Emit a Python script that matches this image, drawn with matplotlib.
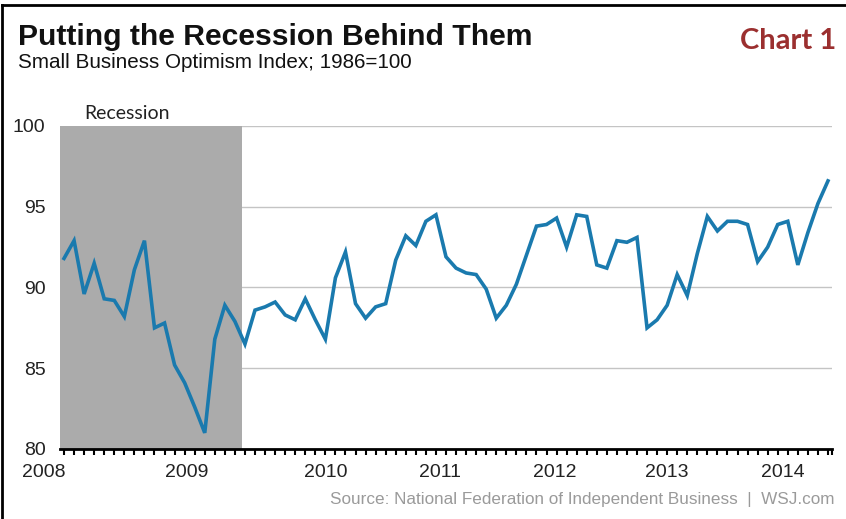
import matplotlib
matplotlib.use("Agg")
from matplotlib import pyplot as plt
from matplotlib.lines import Line2D

# Small Business Optimism Index, monthly Jan 2008 - May 2014
values_2008 = [91.8, 92.9, 89.6, 91.5, 89.3, 89.2, 88.2, 91.1, 92.9, 87.5, 87.8, 85.2]
values_2009 = [84.1, 82.6, 81.0, 86.8, 88.9, 87.9, 86.5, 88.6, 88.8, 89.1, 88.3, 88.0]
values_2010 = [89.3, 88.0, 86.8, 90.6, 92.2, 89.0, 88.1, 88.8, 89.0, 91.7, 93.2, 92.6]
values_2011 = [94.1, 94.5, 91.9, 91.2, 90.9, 90.8, 89.9, 88.1, 88.9, 90.2, 92.0, 93.8]
values_2012 = [93.9, 94.3, 92.5, 94.5, 94.4, 91.4, 91.2, 92.9, 92.8, 93.1, 87.5, 88.0]
values_2013 = [88.9, 90.8, 89.5, 92.1, 94.4, 93.5, 94.1, 94.1, 93.9, 91.6, 92.5, 93.9]
values_2014 = [94.1, 91.4, 93.4, 95.2, 96.6]

index = (values_2008 + values_2009 + values_2010 + values_2011
         + values_2012 + values_2013 + values_2014)
months = list(range(len(index)))  # 0 = Jan 2008

years = ["2008", "2009", "2010", "2011", "2012", "2013", "2014"]
year_label_pos = [-2.0, 12.2, 26.0, 37.4, 48.8, 60.0, 71.5]
y_ticks = [80, 85, 90, 95, 100]

# recession Dec 2007 - Jun 2009, in month units
recession = (-0.4, 17.7)

W, H = 846, 519
fig = plt.figure(figsize=(W / 100, H / 100), dpi=100)
fig.patch.set_facecolor("white")

ax = fig.add_axes([60 / W, 1 - 449 / H, (832 - 60) / W, (449 - 126) / H])
ax.set_xlim(-0.4, 76.4)
ax.set_ylim(80, 100)

for v in y_ticks[1:]:
    ax.axhline(v, color="#c4c4c4", lw=1.0, zorder=1)
ax.axvspan(recession[0], recession[1], ymin=0, ymax=1, color="#ababab", lw=0, zorder=2)
ax.plot(months, index, color="#1a7aae", lw=2.6, zorder=3, solid_joinstyle="miter")

for s in ["top", "right", "left"]:
    ax.spines[s].set_visible(False)
ax.spines["bottom"].set_color("black")
ax.spines["bottom"].set_linewidth(2.0)
ax.spines["bottom"].set_zorder(4)

ax.set_xticks(months + [76.4])
ax.set_xticklabels([])
ax.tick_params(axis="x", direction="out", length=4, width=1.5, color="black")
ax.set_yticks(y_ticks)
ax.set_yticklabels([str(v) for v in y_ticks], fontsize=14, family="Liberation Sans", color="#222222")
ax.tick_params(axis="y", length=0, pad=10.5)

for lbl, pos in zip(years, year_label_pos):
    ax.text(pos, -0.045, lbl, transform=ax.get_xaxis_transform(), ha="center", va="top",
            fontsize=14, family="Liberation Sans", color="#222222", clip_on=False)

ax.text(recession[0] + 2.4, 100.25, "Recession", ha="left", va="bottom",
        fontsize=14, family="Lato", color="#222222")

fig.text(18 / W, 1 - 45 / H, "Putting the Recession Behind Them", ha="left", va="baseline",
         fontsize=21.7, fontweight="bold", family="Liberation Sans", color="#111111")
fig.text(18 / W, 1 - 68 / H, "Small Business Optimism Index; 1986=100", ha="left", va="baseline",
         fontsize=14.9, family="Liberation Sans", color="#111111")
fig.text(836 / W, 1 - 49 / H, "Chart 1", ha="right", va="baseline",
         fontsize=21, fontweight="bold", family="Lato", color="#9b2f2f")
fig.text(834 / W, 1 - 504 / H, "Source: National Federation of Independent Business  |  WSJ.com",
         ha="right", va="baseline", fontsize=12.3, family="Liberation Sans", color="#9a9a9a")

# frame on top and left edge
fig.add_artist(Line2D([2 / W, 2 / W], [0, 1 - 5 / H], color="black", lw=2.0))
fig.add_artist(Line2D([2 / W, 1], [1 - 5 / H, 1 - 5 / H], color="black", lw=2.0))

plt.savefig("out.png", dpi=100)
